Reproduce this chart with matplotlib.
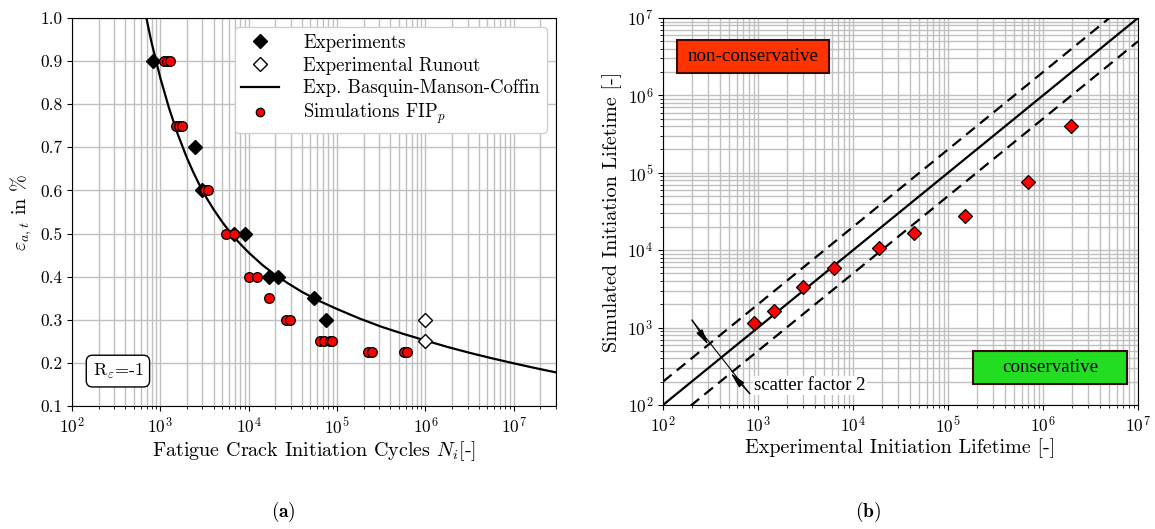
import matplotlib
matplotlib.use("Agg")
from matplotlib import pyplot as plt
from matplotlib.patches import Rectangle
from matplotlib.lines import Line2D

plt.rcParams['font.family'] = 'serif'
plt.rcParams['font.serif'] = ['cmr10', 'DejaVu Serif']
plt.rcParams['mathtext.fontset'] = 'cm'
plt.rcParams['axes.formatter.use_mathtext'] = True
plt.rcParams['axes.unicode_minus'] = False

# (a) strain-life data
n_exp = [820, 2450, 2960, 6900, 9000, 17100, 21500, 55300, 75000]
eps_exp = [0.9, 0.7, 0.6, 0.5, 0.5, 0.4, 0.4, 0.35, 0.3]
n_runout = [1e6, 1e6]
eps_runout = [0.3, 0.25]
n_sim = [1090, 1200, 1300, 1500, 1630, 1760, 3180, 3470, 5530, 6890, 10200, 12300,
         16800, 26400, 29400, 64700, 71900, 84000, 87700, 222000, 249000, 578000, 619000]
eps_sim = [0.9, 0.9, 0.9, 0.75, 0.75, 0.75, 0.6, 0.6, 0.5, 0.5, 0.4, 0.4,
           0.35, 0.3, 0.3, 0.25, 0.25, 0.25, 0.25, 0.225, 0.225, 0.225, 0.225]
# Basquin-Manson-Coffin curve
n_curve = [700, 794, 1000, 1259, 1585, 1995, 2371, 2818, 3350, 3981, 5012, 6310,
           7943, 10000, 14125, 19953, 28184, 39811, 63096, 100000, 177828, 316228,
           562341, 1e6, 1.778e6, 3.162e6, 5.623e6, 1e7, 1.778e7, 3.162e7]
eps_curve = [0.997, 0.944, 0.861, 0.790, 0.729, 0.676, 0.6415, 0.610, 0.582, 0.557,
             0.527, 0.500, 0.477, 0.456, 0.428, 0.404, 0.384, 0.365, 0.3435, 0.325,
             0.3033, 0.284, 0.2673, 0.252, 0.237, 0.2234, 0.2108, 0.199, 0.1877, 0.177]

# (b) experiment vs simulation
life_exp = [900, 1490, 2960, 6300, 18800, 44000, 151000, 695000, 1.99e6]
life_sim = [1130, 1650, 3360, 5900, 10800, 16500, 27400, 76800, 405000]
diag = [1e2, 1e7]

fig = plt.figure(figsize=(11.55, 5.29), dpi=100)
grid_c = '#c0c0c0'
times = ['Liberation Serif', 'DejaVu Serif']

# ---------- (a) ----------
ax1 = fig.add_axes([0.0623, 0.2325, 0.419, 0.7335])
ax1.set_xscale('log')
ax1.set_xlim(1e2, 3e7)
ax1.set_ylim(0.1, 1.0)
ax1.set_yticks([0.1, 0.2, 0.3, 0.4, 0.5, 0.6, 0.7, 0.8, 0.9, 1.0])
ax1.set_yticklabels(['0.1', '0.2', '0.3', '0.4', '0.5', '0.6', '0.7', '0.8', '0.9', '1.0'])
ax1.grid(True, which='major', color=grid_c, linewidth=1.0)
ax1.grid(True, which='minor', axis='x', color=grid_c, linewidth=1.0)
ax1.set_axisbelow(True)

ax1.plot(n_curve, eps_curve, color='black', linewidth=1.6, zorder=2)
ax1.plot(n_exp, eps_exp, linestyle='none', marker='D', markersize=7.5,
         color='black', zorder=3)
ax1.plot(n_runout, eps_runout, linestyle='none', marker='D', markersize=7.5,
         markerfacecolor='white', markeredgecolor='black', zorder=3)
ax1.plot(n_sim, eps_sim, linestyle='none', marker='o', markersize=7,
         markerfacecolor='red', markeredgecolor='black', markeredgewidth=0.9, zorder=4)

handles = [
    Line2D([], [], linestyle='none', marker='D', markersize=7, color='black'),
    Line2D([], [], linestyle='none', marker='D', markersize=7,
           markerfacecolor='white', markeredgecolor='black'),
    Line2D([], [], color='black', linewidth=1.6),
    Line2D([], [], linestyle='none', marker='o', markersize=6,
           markerfacecolor='red', markeredgecolor='black'),
]
labels = ['Experiments', 'Experimental Runout', 'Exp. Basquin-Manson-Coffin',
          r'Simulations FIP$_p$']
leg = ax1.legend(handles, labels, loc='upper right', fontsize=13.5,
                 handlelength=2.0, borderaxespad=0.5, labelspacing=0.25,
                 handletextpad=1.3, borderpad=0.35, framealpha=1.0, fancybox=True)
leg.get_frame().set_edgecolor('#d0d0d0')

ax1.text(0.095, 0.09, r'R$_\varepsilon$=-1', transform=ax1.transAxes,
         fontsize=13, ha='center', va='center',
         bbox=dict(boxstyle='round,pad=0.35', facecolor='white', edgecolor='black'))

ax1.set_xlabel(r'Fatigue Crack Initiation Cycles $N_i$[-]', fontsize=14.5, labelpad=2)
ax1.set_ylabel(r'$\varepsilon_{a,t}$ in $\%$', fontsize=14.5, labelpad=4)
ax1.tick_params(labelsize=12.5)

# ---------- (b) ----------
ax2 = fig.add_axes([0.574, 0.2344, 0.4113, 0.7316])
ax2.set_xscale('log')
ax2.set_yscale('log')
ax2.set_xlim(1e2, 1e7)
ax2.set_ylim(1e2, 1e7)
ax2.grid(True, which='both', color=grid_c, linewidth=1.0)
ax2.set_axisbelow(True)

ax2.plot(diag, diag, color='black', linewidth=1.6, zorder=2)
ax2.plot(diag, [2 * v for v in diag], color='black', linewidth=1.6,
         linestyle=(0, (5, 3)), zorder=2)
ax2.plot(diag, [v / 2 for v in diag], color='black', linewidth=1.6,
         linestyle=(0, (5, 3)), zorder=2)
ax2.plot(life_exp, life_sim, linestyle='none', marker='D', markersize=7,
         markerfacecolor='red', markeredgecolor='black', markeredgewidth=0.9, zorder=4)

# scatter factor annotation
ax2.plot([202, 820], [1250, 140], color='black', linewidth=0.8, zorder=3)
arrow_style = '-|>,head_length=0.8,head_width=0.18'
ax2.annotate('', xy=(300, 600), xytext=(202, 1250),
             arrowprops=dict(arrowstyle=arrow_style, color='black', lw=0.8,
                             mutation_scale=12, shrinkA=0, shrinkB=0), zorder=3)
ax2.annotate('', xy=(516, 258), xytext=(820, 140),
             arrowprops=dict(arrowstyle=arrow_style, color='black', lw=0.8,
                             mutation_scale=12, shrinkA=0, shrinkB=0), zorder=3)
ax2.text(915, 178, 'scatter factor 2', fontsize=13.5, family=times, ha='left', va='center',
         bbox=dict(boxstyle='square,pad=0.05', facecolor='white', edgecolor='none'),
         zorder=3)

ax2.add_patch(Rectangle((0.0295, 0.858), 0.32, 0.0853, transform=ax2.transAxes,
                        facecolor='#ff3300', edgecolor='#3a0a0a', linewidth=1.5, zorder=5))
ax2.text(0.0295 + 0.16, 0.858 + 0.0427, 'non-conservative', transform=ax2.transAxes,
         fontsize=13.7, family=times, ha='center', va='center', zorder=6)
ax2.add_patch(Rectangle((0.6526, 0.0543), 0.324, 0.0853, transform=ax2.transAxes,
                        facecolor='#22dd22', edgecolor='#3a0a0a', linewidth=1.5, zorder=5))
ax2.text(0.6526 + 0.162, 0.0543 + 0.0427, 'conservative', transform=ax2.transAxes,
         fontsize=13.7, family=times, ha='center', va='center', zorder=6)

ax2.set_xlabel('Experimental Initiation Lifetime [-]', fontsize=14.5, labelpad=2)
ax2.set_ylabel('Simulated Initiation Lifetime [-]', fontsize=14.5, labelpad=4)
ax2.tick_params(labelsize=12.5)

fig.text(0.245, 0.032, r'$\mathbf{(a)}$', fontsize=14, ha='center', va='center')
fig.text(0.7515, 0.032, r'$\mathbf{(b)}$', fontsize=14, ha='center', va='center')

fig.savefig('out.png', dpi=100)
